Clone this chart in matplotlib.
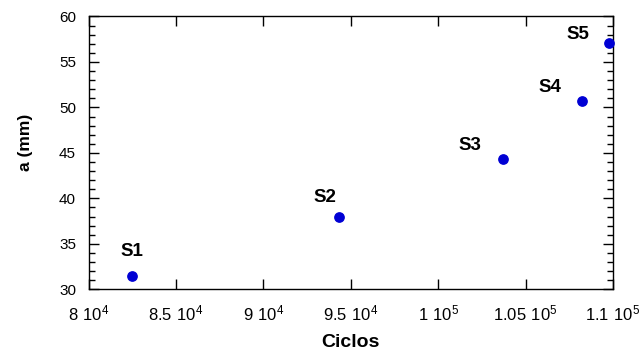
import matplotlib
matplotlib.use("Agg")
import matplotlib.pyplot as plt
from matplotlib.ticker import FixedLocator, MultipleLocator, FuncFormatter

plt.rcParams["font.family"] = ["Liberation Sans", "DejaVu Sans"]
plt.rcParams["mathtext.fontset"] = "custom"
plt.rcParams["mathtext.rm"] = "Liberation Sans"

# data
samples = ["S1", "S2", "S3", "S4", "S5"]
ciclos = [82500, 94300, 103700, 108250, 109750]
a_mm = [31.5, 37.9, 44.3, 50.75, 57.1]
label_offsets = [(0, 24), (-14, 20), (-33, 14), (-32, 13), (-31, 8)]  # pixels
xticks = [80000, 85000, 90000, 95000, 100000, 105000, 110000]


def sci_fmt(v, pos):
    exp = len(str(int(v))) - 1
    m = f"{v / 10 ** exp:g}"
    return r"$\mathregular{" + m + r"\ 10^{" + str(exp) + r"}}$"


fig = plt.figure(figsize=(6.42, 3.54), dpi=100)
ax = fig.add_axes([0.1379, 0.1828, 0.8169, 0.7706])

ax.scatter(ciclos, a_mm, s=45, color="#0000d4", zorder=3, clip_on=False)
for name, x, y, off in zip(samples, ciclos, a_mm, label_offsets):
    ax.annotate(name, (x, y), xytext=off, textcoords="offset pixels",
                ha="center", va="center", fontsize=13.5, fontweight="bold")

ax.set_xlim(80000, 110000)
ax.set_ylim(30, 60)
ax.xaxis.set_major_locator(FixedLocator(xticks))
ax.xaxis.set_major_formatter(FuncFormatter(sci_fmt))
ax.yaxis.set_major_locator(MultipleLocator(5))
ax.yaxis.set_minor_locator(MultipleLocator(1))

ax.tick_params(axis="both", which="both", direction="in", top=True, right=True, width=1)
ax.tick_params(axis="x", which="major", length=7, pad=10, labelsize=12)
ax.tick_params(axis="y", which="major", length=7, pad=9, labelsize=11)
ax.tick_params(axis="y", which="minor", length=4)
for sp in ax.spines.values():
    sp.set_linewidth(1)

ax.set_xlabel("Ciclos", fontsize=14, fontweight="bold")
ax.xaxis.set_label_coords(0.5, -0.165)
ax.set_ylabel("a (mm)", fontsize=12.5, fontweight="bold")
ax.yaxis.set_label_coords(-0.105, 0.54)

fig.savefig("out.png", dpi=100)
